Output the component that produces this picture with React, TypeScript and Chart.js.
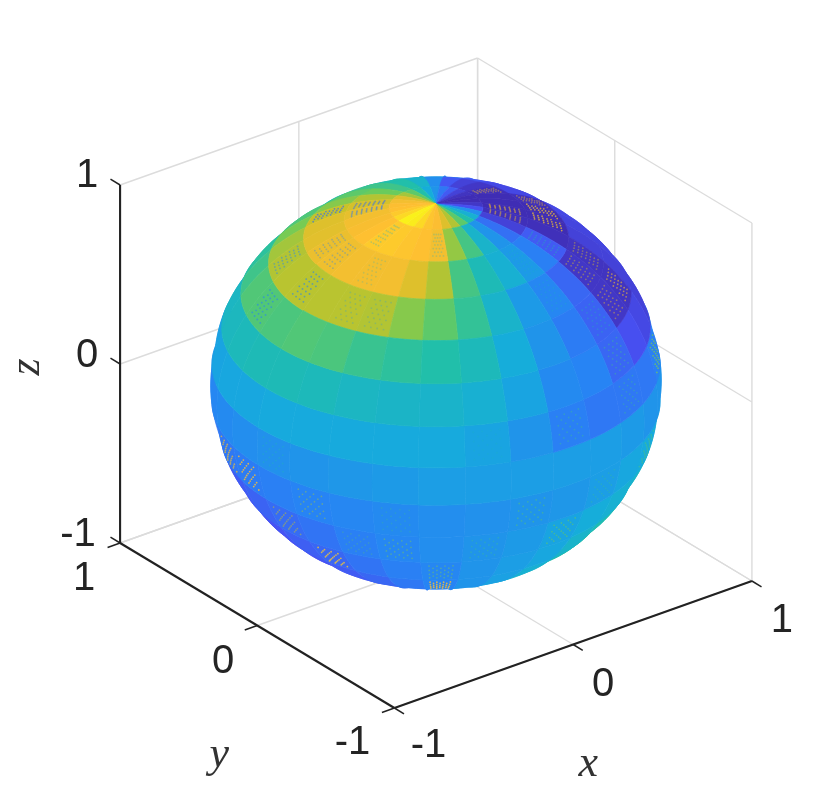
import React, { useEffect, useRef } from "react";
import { Chart, registerables, ScatterController } from "chart.js";

Chart.register(...registerables);

const _ = null;
const latEdges = [90, 78, 66, 54, 42, 30, 18, 6, -6, -18, -30, -42, -54, -66];
const lonCentres = [-174, -162, -150, -138, -126, -114, -102, -90, -78, -66, -54, -42, -30, -18, -6, 6, 18, 30, 42, 54, 66, 78, 90, 102, 114, 126, 138, 150, 162, 174];

const band0 = [.98, .97, .93, .89, .87, .8, .72, .6, .5, .4, .28, .12, .05, .02, .02, .04, .08, .15, .22, .3, .38, .5, .6, .7, .8, .85, .87, .88, .9, .93];
const band1 = [.9, .9, .89, .88, .85, .68, .56, .42, .3, .2, .08, .03, .02, .02, .02, .03, .05, .08, .14, .28, .42, .5, .55, .62, .72, .78, .82, .85, .86, .88];
const band2 = [.85, .85, .85, .8, .72, .56, .47, .4, .32, .24, .15, .03, .02, .02, .03, .1, .1, .14, .22, .33, .42, .5, .55, .6, .66, .75, .8, .81, .83, .84];
const band3 = [.73, .73, .72, .66, .6, .53, .42, .32, .26, .18, .05, .04, .08, .09, .1, .1, .1, .12, .2, .3, .38, .42, .45, .5, .58, .64, .7, .72, .73, .73];
const band4 = [.58, .57, .54, .52, .5, .46, .38, .3, .23, .17, .05, .04, .08, .09, .1, _, _, _, _, _, _, _, _, _, .47, .52, .55, .58, .58, .57];
const band5 = [.47, .46, .44, .43, .42, .4, .35, .27, .25, .18, .12, .1, .08, .08, _, _, _, _, _, _, _, _, _, _, _, .42, .44, .45, .46, .47];
const band6 = [.37, .37, .37, .37, .37, .35, .3, .24, .22, .22, .22, .24, .25, _, _, _, _, _, _, _, _, _, _, _, _, .33, .34, .35, .36, .36];
const band7 = [.29, .3, .31, .32, .33, .33, .33, .33, .33, .32, .3, .3, .3, _, _, _, _, _, _, _, _, _, _, _, _, _, .25, .26, .27, .28];
const band8 = [.24, .25, .26, .27, .28, .29, .3, .31, .33, .36, .37, .38, _, _, _, _, _, _, _, _, _, _, _, _, _, _, _, .22, .22, .23];
const band9 = [.19, .21, .24, .26, .28, .3, .32, .35, .38, .4, .42, .44, _, _, _, _, _, _, _, _, _, _, _, _, _, _, _, .14, .15, .17];
const band10 = [.16, .18, .21, .24, .26, .3, .33, .36, .42, .48, .5, _, _, _, _, _, _, _, _, _, _, _, _, _, _, _, _, _, .12, .13];
const band11 = [.13, .15, .18, .22, .25, .3, .34, .4, .48, .52, _, _, _, _, _, _, _, _, _, _, _, _, _, _, _, _, _, _, _, .12];
const band12 = [_, .12, .17, .21, .24, .3, .36, .45, _, _, _, _, _, _, _, _, _, _, _, _, _, _, _, _, _, _, _, _, _, _];
const surfaceBands = [band0, band1, band2, band3, band4, band5, band6, band7, band8, band9, band10, band11, band12];

// [band, lon column, colour value, strength] of the moire flecks on some faces
const flecks = [
  [2, 25, .2, .8], [1, 26, .22, .6], [1, 25, .2, .6], [2, 29, .25, .4], [2, 28, .25, .4], [3, 27, .25, .55], [3, 29, .25, .7], [4, 28, .25, .7],
  [3, 1, .3, .3], [3, 2, .3, .3], [2, 1, .4, .25], [1, 0, .4, .35], [1, 4, .4, .3],
  [1, 15, .85, .5], [1, 12, .85, .6], [1, 11, .85, .5], [2, 13, .9, .8], [2, 12, .9, .8], [2, 14, .85, .5], [3, 11, .8, .5], [3, 10, .8, .5], [4, 11, .85, .7], [4, 10, .85, .5],
  [2, 10, .5, .4], [2, 8, .45, .3], [3, 8, .45, .3], [4, 9, .5, .35], [5, 9, .55, .45], [6, 11, .65, .8],
  [7, 0, .5, .35], [8, 28, .85, .8], [8, 29, .88, .95], [8, 1, .7, .5], [9, 0, .75, .55], [10, 1, .9, .9], [9, 3, .65, .5], [8, 3, .55, .3], [10, 4, .65, .5], [11, 4, .88, .95],
  [9, 2, .6, .3], [6, 7, .55, .45], [8, 6, .6, .5], [9, 7, .62, .6], [9, 5, .55, .4], [8, 8, .55, .35], [8, 10, .6, .5], [6, 9, .55, .4], [6, 5, .5, .2],
];

const xTicks = [-1, 0, 1];
const yTicks = [-1, 0, 1];
const zTicks = [-1, 0, 1];

const parula = [
  [0, 62, 38, 168], [.125, 71, 81, 243], [.25, 39, 132, 244], [.375, 22, 172, 220], [.5, 33, 191, 170],
  [.625, 108, 204, 90], [.75, 200, 194, 40], [.875, 254, 190, 50], [1, 249, 251, 21],
];
function colour(v: number, alpha = 1) {
  for (let i = 1; i < parula.length; i++) {
    if (v <= parula[i][0]) {
      const a = parula[i - 1], b = parula[i], t = (v - a[0]) / (b[0] - a[0]);
      const c = [1, 2, 3].map((k) => Math.round(a[k] + (b[k] - a[k]) * t));
      return `rgba(${c[0]},${c[1]},${c[2]},${alpha})`;
    }
  }
  return `rgba(249,251,21,${alpha})`;
}

// MATLAB default view(-37.5, 30)
const right = [0.7934, -0.6088, 0];
const up = [0.3068, 0.3986, 0.8647];
const eye = [-0.526, -0.687, 0.503];
const dot = (a: number[], b: number[]) => a[0] * b[0] + a[1] * b[1] + a[2] * b[2];
const proj = (x: number, y: number, z: number) => ({ x: dot(right, [x, y, z]), y: dot(up, [x, y, z]) });
const rad = Math.PI / 180;
const sph = (lat: number, lon: number) => [Math.cos(lat * rad) * Math.cos(lon * rad), Math.cos(lat * rad) * Math.sin(lon * rad), Math.sin(lat * rad)];
const sphP = (lat: number, lon: number) => { const p = sph(lat, lon); return proj(p[0], p[1], p[2]); };

class SurfacePatchController extends ScatterController {
  static id = "surfacePatch";
  static defaults = ScatterController.defaults;
  static overrides = ScatterController.overrides;
  draw() {
    const ctx = this.chart.ctx;
    const pts = this.getMeta().data as any[];
    const ds = this.getDataset() as any;
    ctx.save();
    ctx.beginPath();
    pts.forEach((p, i) => (i ? ctx.lineTo(p.x, p.y) : ctx.moveTo(p.x, p.y)));
    ctx.closePath();
    ctx.fillStyle = ds.backgroundColor;
    ctx.strokeStyle = ds.backgroundColor;
    ctx.lineWidth = 0.7;
    ctx.fill();
    ctx.stroke();
    ctx.restore();
  }
}
Chart.register(SurfacePatchController as any);

const DARK = "rgb(34,34,34)";
const GRID = "rgb(220,220,220)";
const tickFont = '40px "Liberation Sans", Arial, sans-serif';
const mathFont = 'italic 44px "Liberation Serif", serif';
const labels: [string, number, number, number, number, number, string][] = [
  ["1", -1, 1, 1, -33, -9, tickFont], ["0", -1, 1, 0, -33, -8, tickFont], ["-1", -1, 1, -1, -42, -8, tickFont],
  ["1", -1, 1, -1, -36, 36, tickFont], ["0", -1, 0, -1, -34, 36, tickFont], ["-1", -1, -1, -1, -42, 35, tickFont],
  ["-1", -1, -1, -1, 34, 38, tickFont], ["0", 0, -1, -1, 30, 40, tickFont], ["1", 1, -1, -1, 30, 40, tickFont],
];
const axisNames: [string, number, number, number, number, number, number][] = [
  ["x", 0, -1, -1, 15, 120, 0], ["y", -1, 0, -1, -38, 130, 0], ["z", -1, 1, 0, -93, 3, -90],
];

function line(a: number[], b: number[], color: string, width: number, order: number) {
  return { type: "scatter", showLine: true, data: [proj(a[0], a[1], a[2]), proj(b[0], b[1], b[2])], borderColor: color, borderWidth: width, pointRadius: 0, order };
}

function buildDatasets() {
  const out: any[] = [];
  xTicks.forEach((x) => {
    out.push(line([x, 1, -1], [x, 1, 1], GRID, 1.4, 5000));
    out.push(line([x, -1, -1], [x, 1, -1], GRID, 1.4, 5000));
  });
  yTicks.forEach((y) => {
    out.push(line([1, y, -1], [1, y, 1], GRID, 1.4, 5000));
    out.push(line([-1, y, -1], [1, y, -1], GRID, 1.4, 5000));
  });
  zTicks.forEach((z) => {
    out.push(line([-1, 1, z], [1, 1, z], GRID, 1.4, 5000));
    out.push(line([1, 1, z], [1, -1, z], GRID, 1.4, 5000));
  });
  // surface faces, far to near
  const faces: { d: number; r: number; c: number; v: number }[] = [];
  surfaceBands.forEach((vals, r) => vals.forEach((v, c) => {
    if (v === null) return;
    faces.push({ d: dot(eye, sph((latEdges[r] + latEdges[r + 1]) / 2, lonCentres[c])), r, c, v: v as number });
  }));
  faces.sort((a, b) => a.d - b.d);
  faces.forEach((f, i) => {
    const t = latEdges[f.r], b = latEdges[f.r + 1], l = lonCentres[f.c] - 6, h = lonCentres[f.c] + 6;
    const outline: { x: number; y: number }[] = [];
    const steps = 6;
    for (let k = 0; k <= steps; k++) outline.push(sphP(t, l + (h - l) * k / steps));
    for (let k = 1; k <= steps; k++) outline.push(sphP(t + (b - t) * k / steps, h));
    for (let k = steps - 1; k >= 0; k--) outline.push(sphP(b, l + (h - l) * k / steps));
    for (let k = steps - 1; k > 0; k--) outline.push(sphP(t + (b - t) * k / steps, l));
    out.push({ type: "surfacePatch", data: outline, backgroundColor: colour(f.v), order: 4000 - i });
  });
  flecks.forEach(([r, c, v, a]) => {
    const t = latEdges[r], b = latEdges[r + 1], lon = lonCentres[c];
    const pts: { x: number; y: number }[] = [];
    for (let i = 0; i < 7; i++) for (let j = 0; j < 7; j++) {
      if ((i + j) % 2) continue;
      pts.push(sphP(t + (b - t) * (i + 1.5) / 9, lon - 3.6 + 7.2 * j / 6));
    }
    out.push({ type: "scatter", data: pts, backgroundColor: colour(v, Math.min(1, a * 0.85)), pointRadius: 0.9, pointBorderWidth: 0, showLine: false, order: 100 });
  });
  out.push(line([-1, 1, -1], [-1, 1, 1], DARK, 2.1, 1));
  out.push(line([-1, -1, -1], [-1, 1, -1], DARK, 2.1, 1));
  out.push(line([-1, -1, -1], [1, -1, -1], DARK, 2.1, 1));
  zTicks.forEach((z) => out.push(line([-1, 1, z], [-1, 1.07, z], DARK, 1.5, 1)));
  yTicks.forEach((y) => out.push(line([-1, y, -1], [-1.07, y, -1], DARK, 1.5, 1)));
  xTicks.forEach((x) => out.push(line([x, -1, -1], [x, -1.07, -1], DARK, 1.5, 1)));
  return out;
}

const textPlugin = {
  id: "axisText",
  afterDatasetsDraw(chart: any) {
    const { ctx, scales } = chart;
    const at = (x: number, y: number, z: number) => { const p = proj(x, y, z); return [scales.x.getPixelForValue(p.x), scales.y.getPixelForValue(p.y)]; };
    ctx.save();
    ctx.fillStyle = "rgb(36,36,36)";
    ctx.textAlign = "center";
    ctx.textBaseline = "middle";
    labels.forEach(([s, x, y, z, dx, dy, f]) => {
      const [px, py] = at(x, y, z);
      ctx.font = f;
      ctx.fillText(s, px + dx, py + dy);
    });
    ctx.font = mathFont;
    ctx.fillStyle = "rgb(50,50,50)";
    axisNames.forEach(([s, x, y, z, dx, dy, rot]) => {
      const [px, py] = at(x, y, z);
      ctx.save();
      ctx.translate(px + dx, py + dy);
      ctx.rotate((rot * Math.PI) / 180);
      ctx.fillText(s, 0, 0);
      ctx.restore();
    });
    ctx.restore();
  },
};

export default function App() {
  const ref = useRef<HTMLCanvasElement>(null);
  useEffect(() => {
    document.body.style.margin = "0";
    const chart = new Chart(ref.current as HTMLCanvasElement, {
      type: "scatter",
      data: { datasets: buildDatasets() },
      options: {
        animation: false,
        responsive: false,
        events: [],
        layout: { padding: 0, autoPadding: false },
        plugins: { legend: { display: false }, tooltip: { enabled: false } },
        scales: {
          x: { type: "linear", display: false, min: -436 / 225.3, max: 394 / 225.3 },
          y: { type: "linear", display: false, min: -412 / 207, max: 383 / 207 },
        },
      },
      plugins: [textPlugin],
    } as any);
    return () => chart.destroy();
  }, []);
  return <canvas ref={ref} width={830} height={795} style={{ display: "block", width: 830, height: 795, filter: "blur(0.7px)" }} />;
}
